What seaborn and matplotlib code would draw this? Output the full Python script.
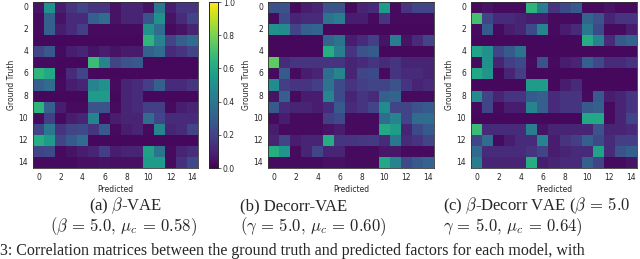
#!/usr/bin/env python3
# Correlation heatmaps (ground truth vs predicted factors) for three VAE variants

import numpy as np
import matplotlib
matplotlib.use("Agg")
import matplotlib.pyplot as plt
import seaborn as sns

# ---------------- data ----------------
beta_vae = [
    [0.05, 0.50, 0.08, 0.15, 0.20, 0.15, 0.15, 0.05, 0.10, 0.10, 0.05, 0.40, 0.08, 0.15, 0.15],
    [0.03, 0.30, 0.05, 0.12, 0.12, 0.30, 0.35, 0.05, 0.10, 0.10, 0.25, 0.50, 0.05, 0.12, 0.20],
    [0.03, 0.30, 0.08, 0.12, 0.18, 0.03, 0.03, 0.03, 0.03, 0.03, 0.50, 0.35, 0.03, 0.05, 0.10],
    [0.02, 0.02, 0.02, 0.02, 0.02, 0.02, 0.02, 0.02, 0.02, 0.02, 0.65, 0.45, 0.20, 0.30, 0.35],
    [0.20, 0.27, 0.03, 0.08, 0.10, 0.05, 0.08, 0.05, 0.07, 0.07, 0.30, 0.35, 0.12, 0.15, 0.20],
    [0.03, 0.03, 0.02, 0.02, 0.02, 0.68, 0.45, 0.20, 0.25, 0.28, 0.02, 0.02, 0.02, 0.02, 0.02],
    [0.65, 0.60, 0.02, 0.12, 0.20, 0.02, 0.02, 0.02, 0.02, 0.02, 0.02, 0.02, 0.02, 0.02, 0.02],
    [0.30, 0.35, 0.03, 0.08, 0.10, 0.45, 0.50, 0.03, 0.10, 0.12, 0.18, 0.30, 0.12, 0.12, 0.15],
    [0.02, 0.02, 0.02, 0.02, 0.02, 0.55, 0.55, 0.02, 0.10, 0.12, 0.02, 0.02, 0.02, 0.02, 0.02],
    [0.65, 0.30, 0.08, 0.03, 0.03, 0.25, 0.25, 0.03, 0.10, 0.12, 0.18, 0.18, 0.03, 0.08, 0.10],
    [0.03, 0.18, 0.03, 0.08, 0.10, 0.45, 0.03, 0.08, 0.10, 0.10, 0.35, 0.20, 0.12, 0.12, 0.12],
    [0.20, 0.40, 0.15, 0.20, 0.22, 0.15, 0.28, 0.03, 0.08, 0.10, 0.03, 0.45, 0.10, 0.12, 0.20],
    [0.62, 0.55, 0.20, 0.28, 0.35, 0.02, 0.02, 0.02, 0.02, 0.02, 0.02, 0.02, 0.02, 0.02, 0.02],
    [0.20, 0.22, 0.03, 0.05, 0.08, 0.10, 0.18, 0.08, 0.10, 0.10, 0.57, 0.38, 0.03, 0.10, 0.13],
    [0.03, 0.03, 0.03, 0.03, 0.04, 0.04, 0.05, 0.04, 0.04, 0.04, 0.55, 0.55, 0.03, 0.14, 0.22],
]

decorr_vae = [
    [0.25, 0.25, 0.03, 0.08, 0.10, 0.25, 0.25, 0.03, 0.10, 0.12, 0.55, 0.03, 0.15, 0.20, 0.20],
    [0.03, 0.22, 0.10, 0.12, 0.12, 0.38, 0.42, 0.08, 0.08, 0.03, 0.15, 0.03, 0.03, 0.03, 0.03],
    [0.50, 0.48, 0.20, 0.30, 0.32, 0.02, 0.02, 0.02, 0.02, 0.02, 0.02, 0.02, 0.02, 0.02, 0.02],
    [0.02, 0.02, 0.02, 0.02, 0.02, 0.32, 0.38, 0.08, 0.12, 0.18, 0.05, 0.42, 0.05, 0.12, 0.20],
    [0.02, 0.02, 0.02, 0.02, 0.02, 0.62, 0.42, 0.15, 0.25, 0.28, 0.02, 0.02, 0.02, 0.02, 0.02],
    [0.75, 0.12, 0.15, 0.15, 0.15, 0.15, 0.15, 0.10, 0.12, 0.15, 0.12, 0.15, 0.10, 0.10, 0.10],
    [0.03, 0.28, 0.03, 0.08, 0.10, 0.35, 0.45, 0.10, 0.20, 0.22, 0.03, 0.15, 0.12, 0.12, 0.10],
    [0.48, 0.18, 0.15, 0.15, 0.18, 0.38, 0.22, 0.15, 0.18, 0.20, 0.20, 0.25, 0.15, 0.10, 0.12],
    [0.05, 0.30, 0.03, 0.08, 0.08, 0.45, 0.22, 0.10, 0.15, 0.12, 0.30, 0.32, 0.03, 0.03, 0.03],
    [0.28, 0.12, 0.10, 0.10, 0.08, 0.12, 0.28, 0.12, 0.15, 0.20, 0.48, 0.20, 0.20, 0.25, 0.28],
    [0.03, 0.08, 0.03, 0.03, 0.03, 0.18, 0.22, 0.03, 0.03, 0.03, 0.35, 0.45, 0.20, 0.35, 0.35],
    [0.08, 0.03, 0.03, 0.03, 0.03, 0.05, 0.08, 0.03, 0.03, 0.03, 0.60, 0.55, 0.10, 0.22, 0.28],
    [0.10, 0.20, 0.08, 0.10, 0.10, 0.62, 0.15, 0.15, 0.16, 0.17, 0.12, 0.40, 0.12, 0.15, 0.20],
    [0.62, 0.52, 0.03, 0.10, 0.20, 0.10, 0.10, 0.03, 0.03, 0.03, 0.06, 0.06, 0.03, 0.03, 0.03],
    [0.03, 0.03, 0.03, 0.03, 0.03, 0.04, 0.04, 0.03, 0.03, 0.03, 0.60, 0.45, 0.22, 0.28, 0.32],
]

beta_decorr_vae = [
    [0.03, 0.05, 0.03, 0.03, 0.03, 0.65, 0.42, 0.15, 0.22, 0.28, 0.03, 0.03, 0.05, 0.03, 0.03],
    [0.70, 0.20, 0.12, 0.12, 0.10, 0.08, 0.08, 0.03, 0.03, 0.03, 0.32, 0.25, 0.10, 0.15, 0.15],
    [0.03, 0.28, 0.03, 0.08, 0.10, 0.22, 0.45, 0.03, 0.08, 0.12, 0.40, 0.22, 0.03, 0.03, 0.08],
    [0.02, 0.02, 0.02, 0.02, 0.02, 0.02, 0.02, 0.02, 0.02, 0.02, 0.62, 0.45, 0.12, 0.28, 0.32],
    [0.58, 0.50, 0.20, 0.28, 0.38, 0.02, 0.02, 0.02, 0.02, 0.02, 0.02, 0.02, 0.02, 0.02, 0.02],
    [0.03, 0.50, 0.10, 0.18, 0.22, 0.03, 0.25, 0.03, 0.08, 0.10, 0.30, 0.22, 0.12, 0.12, 0.15],
    [0.60, 0.52, 0.02, 0.10, 0.18, 0.02, 0.02, 0.02, 0.02, 0.02, 0.02, 0.02, 0.02, 0.02, 0.02],
    [0.02, 0.02, 0.02, 0.02, 0.02, 0.55, 0.55, 0.02, 0.08, 0.12, 0.02, 0.02, 0.02, 0.02, 0.02],
    [0.48, 0.20, 0.10, 0.15, 0.15, 0.28, 0.30, 0.12, 0.15, 0.15, 0.03, 0.28, 0.08, 0.10, 0.15],
    [0.03, 0.20, 0.03, 0.08, 0.08, 0.45, 0.30, 0.12, 0.15, 0.15, 0.28, 0.30, 0.03, 0.10, 0.15],
    [0.02, 0.02, 0.02, 0.02, 0.02, 0.02, 0.02, 0.02, 0.02, 0.02, 0.60, 0.60, 0.03, 0.10, 0.20],
    [0.68, 0.12, 0.12, 0.12, 0.12, 0.42, 0.05, 0.10, 0.10, 0.10, 0.10, 0.25, 0.10, 0.10, 0.12],
    [0.20, 0.35, 0.03, 0.08, 0.12, 0.12, 0.45, 0.08, 0.15, 0.18, 0.30, 0.22, 0.12, 0.18, 0.18],
    [0.34, 0.12, 0.12, 0.12, 0.12, 0.15, 0.20, 0.08, 0.10, 0.12, 0.12, 0.58, 0.12, 0.25, 0.30],
    [0.42, 0.10, 0.10, 0.10, 0.10, 0.62, 0.08, 0.10, 0.12, 0.12, 0.30, 0.20, 0.03, 0.03, 0.05],
]

captions_l1 = [r"(a) $\beta$-VAE", "(b) Decorr-VAE", r"(c) $\beta$-Decorr VAE ($\beta\,=\,5.0$"]
captions_l2 = [r"$(\beta\,=\,5.0,\,\mu_c\,=\,0.58)$",
               r"$(\gamma\,=\,5.0,\,\mu_c\,=\,0.60)$",
               r"$\gamma\,=\,5.0,\,\mu_c\,=\,0.64)$"]
footer = "3: Correlation matrices between the ground truth and predicted factors for each model, with"

# ---------------- plotting ----------------
sns.set_style("white")
plt.rcParams["mathtext.fontset"] = "cm"

fig = plt.figure(figsize=(6.4, 2.59), dpi=100)

# axes boxes in figure fractions (left, bottom, width, height)
top = 1 - 2 / 259
bot = 1 - 168 / 259
boxes = [
    (33 / 640, bot, 165 / 640, top - bot),
    (268 / 640, bot, 166 / 640, top - bot),
    (471 / 640, bot, 166 / 640, top - bot),
]
cbar_ax = fig.add_axes((209 / 640, bot, 9 / 640, top - bot))

mats = [beta_vae, decorr_vae, beta_decorr_vae]
for i, (m, box) in enumerate(zip(mats, boxes)):
    ax = fig.add_axes(box)
    sns.heatmap(np.array(m), ax=ax, cmap="viridis", vmin=0, vmax=1,
                cbar=(i == 0), cbar_ax=cbar_ax if i == 0 else None,
                xticklabels=2, yticklabels=2, square=False)
    ax.set_xlabel("Predicted", fontsize=5.5, labelpad=2)
    ax.set_ylabel("Ground Truth", fontsize=5.5, labelpad=2)
    ax.tick_params(axis="both", labelsize=5.5, length=2, width=0.5, pad=1.5)
    ax.tick_params(axis="y", rotation=0)
    ax.tick_params(axis="x", rotation=0)
    for s in ax.spines.values():
        s.set_visible(True)
        s.set_linewidth(0.6)
        s.set_color("#333333")

cbar_ax.tick_params(labelsize=5.5, length=2, width=0.5, pad=1.5)
cbar_ax.set_yticks([0.0, 0.2, 0.4, 0.6, 0.8, 1.0])
cbar_ax.set_yticklabels(["0.0", "0.2", "0.4", "0.6", "0.8", "1.0"])
for s in cbar_ax.spines.values():
    s.set_visible(True)
    s.set_linewidth(0.6)

# sub-captions (serif, like the paper)
cap_font = dict(fontsize=12, family="Liberation Serif")
y1 = 1 - 210 / 259   # baseline of first caption line
y2 = 1 - 231 / 259   # baseline of second caption line
fig.text(125 / 640, y1, captions_l1[0], ha="center", va="baseline", **cap_font)
fig.text(124 / 640, y2, captions_l2[0], ha="center", va="baseline", **cap_font)
fig.text(240 / 640, y1, captions_l1[1], ha="left", va="baseline", **cap_font)
fig.text(240 / 640, y2, captions_l2[1], ha="left", va="baseline", **cap_font)
fig.text(443 / 640, y1, captions_l1[2], ha="left", va="baseline", **cap_font)
fig.text(443 / 640, y2, captions_l2[2], ha="left", va="baseline", **cap_font)

# partially visible figure caption at the bottom edge
fig.text(0 / 640, 1 - 255 / 259, footer, ha="left", va="baseline",
         fontsize=11.5, family="Liberation Serif")

fig.savefig("out.png", dpi=100)
